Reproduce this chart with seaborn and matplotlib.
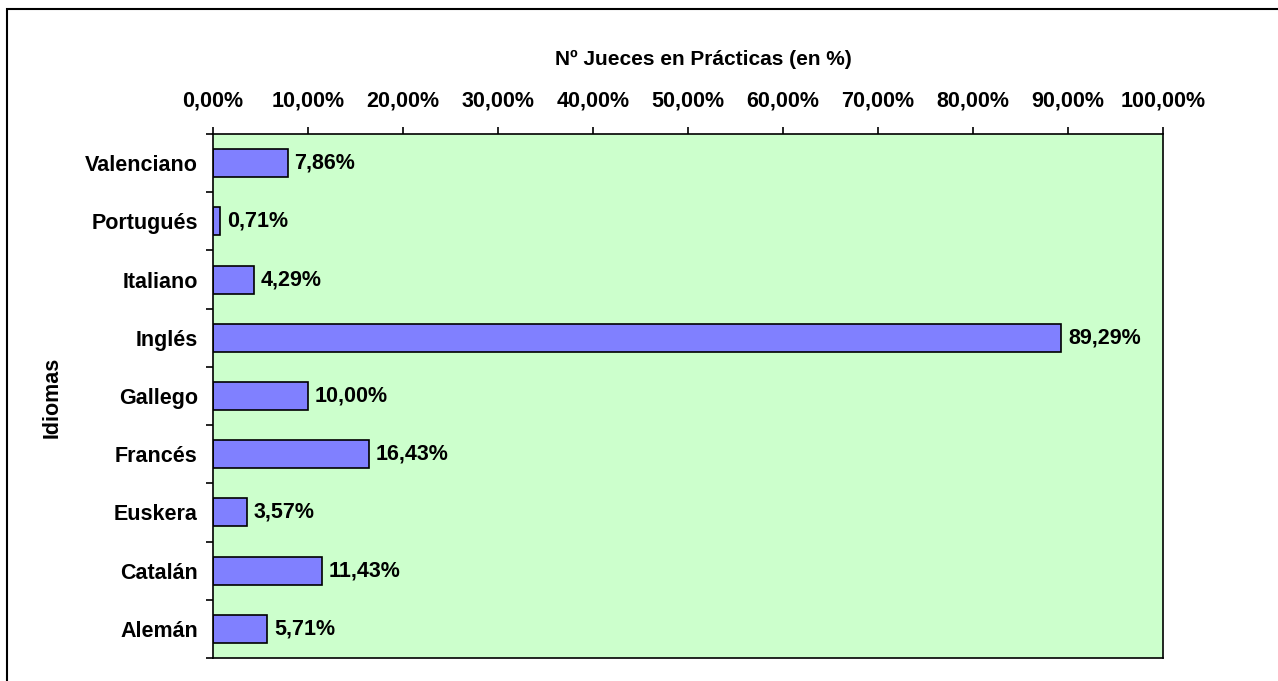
import matplotlib
matplotlib.use("Agg")
import matplotlib.pyplot as plt
import seaborn as sns
import pandas as pd
from matplotlib.patches import Rectangle
from matplotlib.ticker import FixedLocator

idiomas = ["Valenciano", "Portugués", "Italiano", "Inglés", "Gallego",
           "Francés", "Euskera", "Catalán", "Alemán"]
porcentajes = [7.86, 0.71, 4.29, 89.29, 10.00, 16.43, 3.57, 11.43, 5.71]
x_ticks = [0, 10, 20, 30, 40, 50, 60, 70, 80, 90, 100]

df = pd.DataFrame({"Idioma": idiomas, "Pct": porcentajes})

sns.set_theme(style="white")
plt.rcParams['font.family'] = ['Liberation Sans', 'DejaVu Sans']
plt.rcParams['font.weight'] = 'bold'
plt.rcParams['text.color'] = 'black'
plt.rcParams['xtick.color'] = 'black'
plt.rcParams['ytick.color'] = 'black'
FS = 15.5

fig = plt.figure(figsize=(12.78, 6.81), dpi=100)
ax = fig.add_axes([213/1278, 1 - 658/681, 950/1278, 524/681])
ax.set_facecolor("#CCFFCC")

sns.barplot(data=df, x="Pct", y="Idioma", orient="h", color="#8080FF",
            saturation=1, edgecolor="black", linewidth=1.2, width=0.48, ax=ax)

def fmt(v):
    return f"{v:.2f}".replace(".", ",") + "%"

for p, v in zip(ax.patches, porcentajes):
    ax.annotate(fmt(v), (p.get_width(), p.get_y() + p.get_height()/2),
                xytext=(5, 0), textcoords="offset points",
                ha="left", va="center", fontsize=FS, fontweight="bold")

ax.set_xlim(0, 100)
ax.set_ylim(len(idiomas) - 0.5, -0.5)
ax.xaxis.tick_top()
ax.set_xticks(x_ticks)
ax.set_xticklabels([fmt(t) for t in x_ticks], fontsize=FS, fontweight="bold")
ax.tick_params(axis="x", which="major", direction="out", length=5, width=1.2,
               pad=11)

ax.set_yticks(range(len(idiomas)))
ax.set_yticklabels(idiomas, fontsize=FS, fontweight="bold")
ax.tick_params(axis="y", which="major", length=0, pad=11)
ax.yaxis.set_minor_locator(FixedLocator([i - 0.5 for i in range(len(idiomas) + 1)]))
ax.tick_params(axis="y", which="minor", direction="out", length=5, width=1.2,
               left=True)

for s in ax.spines.values():
    s.set_color("black")
    s.set_linewidth(1.2)

ax.set_xlabel("")
ax.set_ylabel("")
fig.text(703/1278, 1 - 65/681, "Nº Jueces en Prácticas (en %)", ha="center",
         va="baseline", fontsize=15, fontweight="bold")
fig.text(52.5/1278, 1 - 397/681, "Idiomas", rotation=90, ha="center",
         va="center", fontsize=FS, fontweight="bold")

fig.patches.append(Rectangle((7/1278, -0.1), 1.2, (681 - 9)/681 + 0.1,
                             transform=fig.transFigure, fill=False,
                             edgecolor="black", linewidth=1.5))

fig.savefig("out.png", dpi=100)
